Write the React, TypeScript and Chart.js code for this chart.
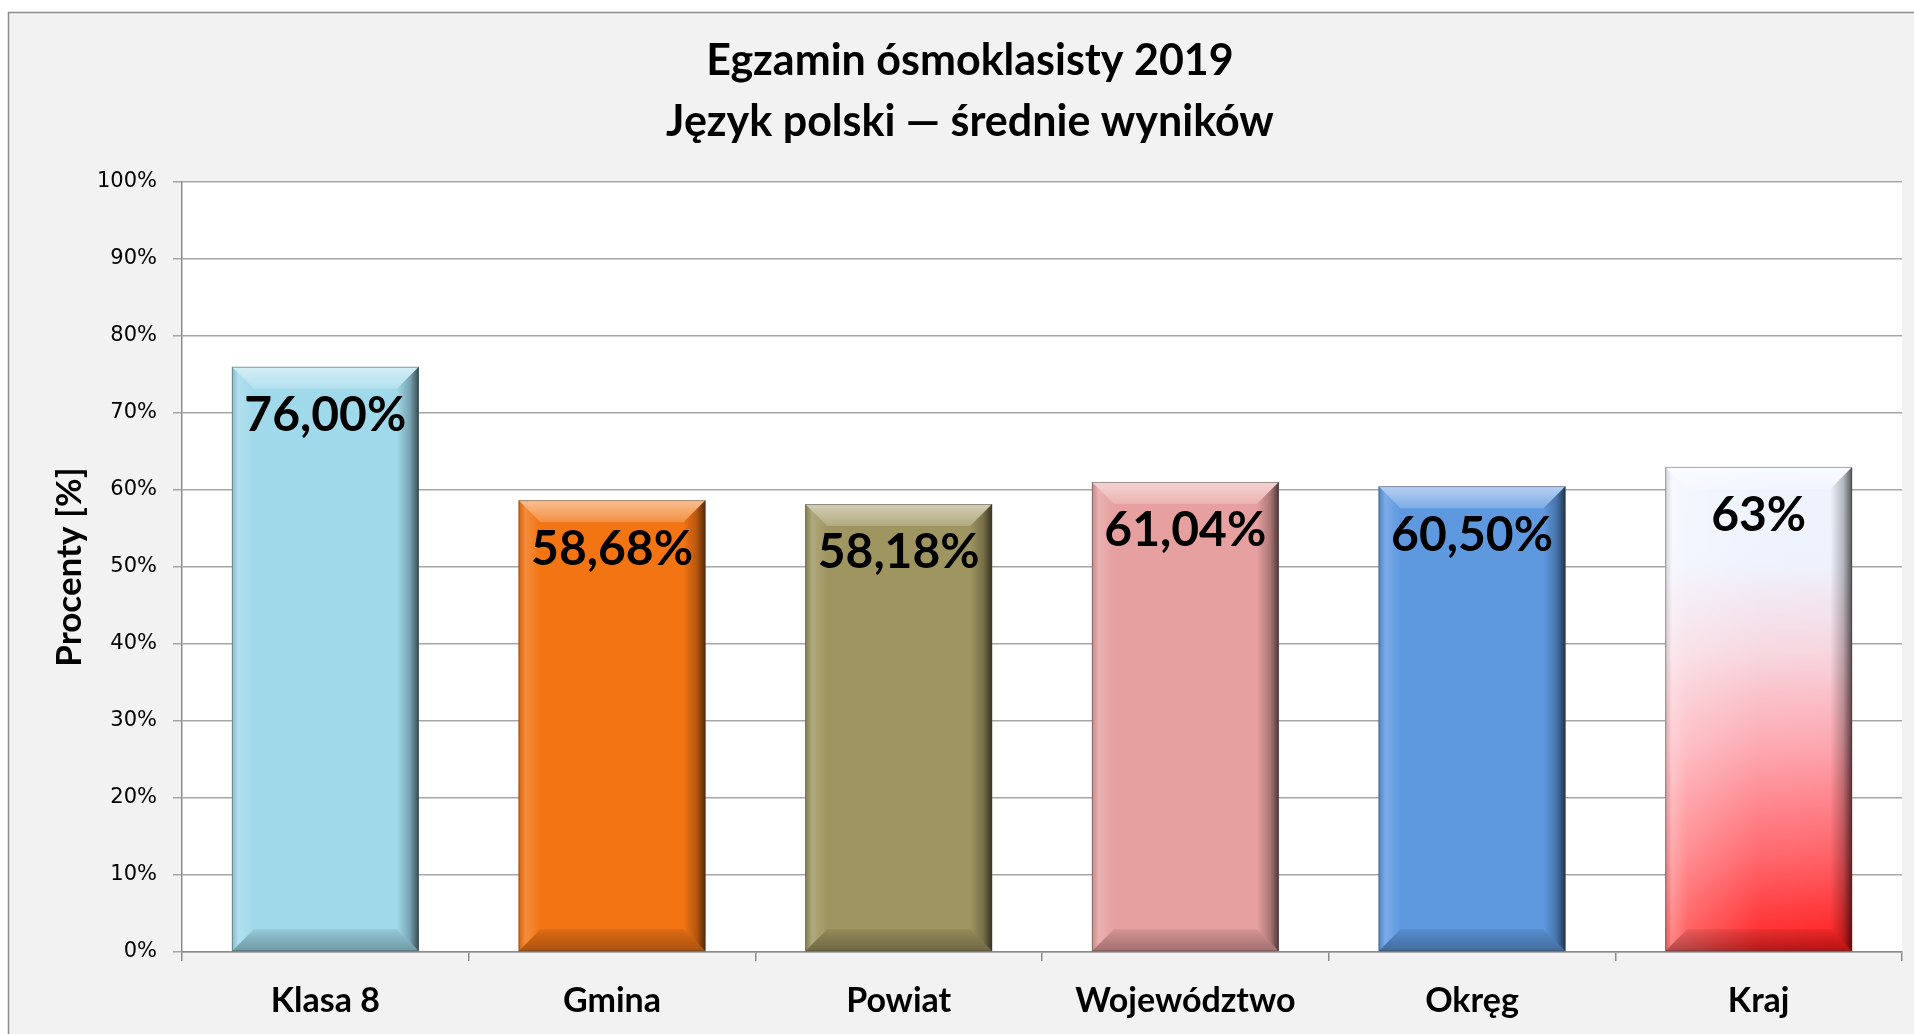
import React, { useEffect, useRef } from 'react';
import { Chart, registerables } from 'chart.js';

Chart.register(...registerables);

const titleLines = ['Egzamin ósmoklasisty 2019', 'Język polski — średnie wyników'];
const yAxisTitle = 'Procenty [%]';
const categories = ['Klasa 8', 'Gmina', 'Powiat', 'Województwo', 'Okręg', 'Kraj'];
const values = [76.0, 58.68, 58.18, 61.04, 60.5, 63];
const valueLabels = ['76,00%', '58,68%', '58,18%', '61,04%', '60,50%', '63%'];
const barColors: (string | null)[] = ['#A0D9EA', '#F27413', '#9E9560', '#E6A09F', '#5E99E0', null];
const yMin = 0;
const yMax = 100;
const yStep = 10;

function gradientFill(ctx: CanvasRenderingContext2D, top: number, bottom: number) {
  const g = ctx.createLinearGradient(0, top, 0, bottom);
  g.addColorStop(0, '#EEF4FE');
  g.addColorStop(0.2, '#EEF2FD');
  g.addColorStop(0.38, '#F7D6DF');
  g.addColorStop(0.58, '#FDA4AD');
  g.addColorStop(0.8, '#FF6268');
  g.addColorStop(1, '#FF1818');
  return g;
}

const backgroundPlugin = {
  id: 'bgPanel',
  beforeDraw(chart: any) {
    const { ctx, width, height, chartArea } = chart;
    ctx.save();
    ctx.fillStyle = '#FFFFFF';
    ctx.fillRect(0, 0, width, height);
    ctx.fillStyle = '#F2F2F2';
    ctx.fillRect(8, 12, width, height);
    ctx.strokeStyle = '#8C8C8C';
    ctx.lineWidth = 1.5;
    ctx.strokeRect(8.5, 12.5, width + 20, height + 20);
    ctx.fillStyle = '#FFFFFF';
    ctx.fillRect(chartArea.left, chartArea.top, chartArea.right - chartArea.left, chartArea.bottom - chartArea.top);
    ctx.restore();
  },
};

const bevelPlugin = {
  id: 'bevelLabels',
  afterDatasetsDraw(chart: any) {
    const { ctx } = chart;
    const meta = chart.getDatasetMeta(0);
    meta.data.forEach((el: any, i: number) => {
      const { x, y, base, width } = el.getProps(['x', 'y', 'base', 'width'], true);
      const l = x - width / 2;
      const r = x + width / 2;
      const t = Math.min(y, base);
      const b = Math.max(y, base);
      const bv = 22;
      ctx.save();
      if (barColors[i] === null) {
        const hg = ctx.createLinearGradient(l, 0, r, 0);
        hg.addColorStop(0, 'rgba(255,255,255,0.35)');
        hg.addColorStop(0.5, 'rgba(255,255,255,0.05)');
        hg.addColorStop(1, 'rgba(255,255,255,0)');
        ctx.fillStyle = hg;
        ctx.fillRect(l, t, width, b - t);
      }
      // top face
      let g = ctx.createLinearGradient(0, t, 0, t + bv);
      g.addColorStop(0, 'rgba(255,255,255,0.55)');
      g.addColorStop(1, 'rgba(255,255,255,0.2)');
      ctx.fillStyle = g;
      ctx.beginPath();
      ctx.moveTo(l, t); ctx.lineTo(r, t); ctx.lineTo(r - bv, t + bv); ctx.lineTo(l + bv, t + bv); ctx.closePath();
      ctx.fill();
      // left face
      g = ctx.createLinearGradient(l, 0, l + bv, 0);
      g.addColorStop(0, 'rgba(0,0,0,0.12)');
      g.addColorStop(0.3, 'rgba(255,255,255,0.18)');
      g.addColorStop(1, 'rgba(255,255,255,0)');
      ctx.fillStyle = g;
      ctx.beginPath();
      ctx.moveTo(l, t); ctx.lineTo(l + bv, t + bv); ctx.lineTo(l + bv, b - bv); ctx.lineTo(l, b); ctx.closePath();
      ctx.fill();
      // right face
      g = ctx.createLinearGradient(r - bv, 0, r, 0);
      g.addColorStop(0, 'rgba(0,0,0,0)');
      g.addColorStop(0.6, 'rgba(0,0,0,0.25)');
      g.addColorStop(1, 'rgba(0,0,0,0.65)');
      ctx.fillStyle = g;
      ctx.beginPath();
      ctx.moveTo(r, t); ctx.lineTo(r, b); ctx.lineTo(r - bv, b - bv); ctx.lineTo(r - bv, t + bv); ctx.closePath();
      ctx.fill();
      // bottom face
      g = ctx.createLinearGradient(0, b - bv, 0, b);
      g.addColorStop(0, 'rgba(0,0,0,0.08)');
      g.addColorStop(1, 'rgba(0,0,0,0.3)');
      ctx.fillStyle = g;
      ctx.beginPath();
      ctx.moveTo(l, b); ctx.lineTo(r, b); ctx.lineTo(r - bv, b - bv); ctx.lineTo(l + bv, b - bv); ctx.closePath();
      ctx.fill();
      // outline
      ctx.strokeStyle = 'rgba(60,60,60,0.45)';
      ctx.lineWidth = 1;
      ctx.strokeRect(l + 0.5, t + 0.5, width - 1, b - t - 1);
      // value label
      ctx.fillStyle = '#000000';
      ctx.font = 'bold 48px Lato';
      ctx.textAlign = 'center';
      ctx.textBaseline = 'middle';
      ctx.fillText(valueLabels[i], x, t + 49);
      ctx.restore();
    });
  },
};

export default function App() {
  const ref = useRef<HTMLCanvasElement>(null);
  useEffect(() => {
    let chart: Chart | null = null;
    let cancelled = false;
    const make = () => {
      if (cancelled || !ref.current) return;
      chart = new Chart(ref.current, {
        type: 'bar',
        data: {
          labels: categories,
          datasets: [
            {
              data: values,
              backgroundColor: (c: any) => {
                const col = barColors[c.dataIndex];
                if (col) return col;
                const ys = c.chart.scales && c.chart.scales.y;
                if (!ys) return '#FF9090';
                const top = ys.getPixelForValue(values[c.dataIndex]);
                const bot = ys.getPixelForValue(0);
                return gradientFill(c.chart.ctx, top, bot);
              },
              borderWidth: 0,
              categoryPercentage: 1,
              barPercentage: 0.652,
            },
          ],
        },
        options: {
          responsive: true,
          maintainAspectRatio: false,
          animation: false,
          layout: { padding: { left: 38, right: 12, top: 0, bottom: 0 } },
          plugins: {
            legend: { display: false },
            tooltip: { enabled: false },
            title: {
              display: true,
              text: titleLines,
              color: '#000000',
              font: { family: 'Lato', size: 43, weight: 'bold', lineHeight: '61px' },
              padding: { top: 31, bottom: 29 },
            },
          },
          scales: {
            x: {
              grid: { display: true, drawOnChartArea: false, drawTicks: true, tickLength: 9, color: '#8C8C8C', lineWidth: 1.5, offset: true },
              border: { color: '#8C8C8C', width: 1.5 },
              ticks: { color: '#000000', font: { family: 'Lato', size: 34, weight: 'bold' }, padding: 20 },
              afterFit: (s: any) => { s.height = 82; },
            },
            y: {
              min: yMin,
              max: yMax,
              ticks: { stepSize: yStep, color: '#000000', font: { family: 'DejaVu Sans', size: 21 }, padding: 16, callback: (v: any) => v + '%' },
              grid: { color: '#A6A6A6', lineWidth: 1.5, tickLength: 9 },
              border: { color: '#8C8C8C', width: 1.5 },
              title: { display: true, text: yAxisTitle, color: '#000000', font: { family: 'Lato', size: 35, weight: 'bold', lineHeight: 1 }, padding: { top: 14, bottom: 0 } },
              afterFit: (s: any) => { s.width = 144; s.paddingTop = 0; s.paddingBottom = 0; },
            },
          },
        },
        plugins: [backgroundPlugin, bevelPlugin],
      } as any);
    };
    document.fonts.load('bold 40px Lato').then(make, make);
    return () => {
      cancelled = true;
      if (chart) chart.destroy();
    };
  }, []);
  return (
    <div style={{ position: 'fixed', left: 0, top: 0, width: 1914, height: 1034 }}>
      <canvas ref={ref} />
    </div>
  );
}
